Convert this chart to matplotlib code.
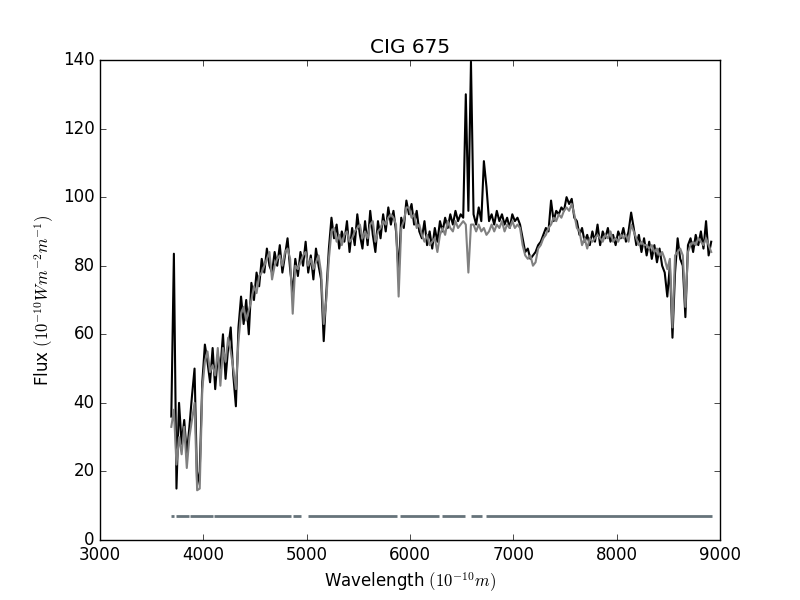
import numpy as np
import matplotlib
matplotlib.use("Agg")
import matplotlib.pyplot as plt

plt.style.use("classic")

# wavelength grid (Angstrom) of the sampled spectrum
wave = np.arange(3690, 8916, 25)

# observed flux (black)
flux_obs = [
    36, 83.5, 15, 40, 28, 35, 25, 33, 42, 50,
    16, 20, 46, 57, 52, 46, 56, 44, 54, 50,
    60, 47, 56, 62, 48, 39, 62, 71, 63, 70,
    60, 75, 70, 78, 74, 82, 78, 85, 80, 78,
    84, 80, 86, 78, 83, 88, 79, 72, 82, 77,
    84, 80, 87, 78, 83, 76, 85, 80, 76, 58,
    72, 85, 94, 88, 92, 85, 90, 87, 93, 84,
    91, 86, 95, 89, 85, 93, 86, 96, 89, 84,
    93, 88, 95, 90, 97, 92, 96, 90, 78, 94,
    91, 99, 95, 98, 92, 96, 90, 88, 93, 86,
    90, 85, 91, 87, 93, 90, 94, 91, 95, 92,
    96, 93, 95, 94, 130, 96, 139.5, 95, 92, 97,
    93, 110.5, 103, 93, 95, 92, 96, 93, 95, 92,
    94, 91, 95, 93, 94, 92, 88, 84, 85, 82,
    83, 84, 86, 87, 89, 91, 90, 99, 93, 96,
    95, 97, 96, 100, 98, 99.5, 94, 93, 89, 91,
    87, 89, 86, 90, 87, 92, 86, 90, 88, 91,
    87, 89, 86, 90, 88, 91, 87, 90, 95.5, 91,
    86, 89, 84, 88, 83, 87, 82, 86, 81, 85,
    80, 78, 71, 80, 59, 78, 88, 82, 80, 65,
    86, 88, 84, 89, 86, 90, 85, 93, 83, 87,
]

# model flux (grey)
flux_model = [
    33, 38, 22, 30, 25, 33, 21, 30, 35, 40,
    14.5, 15, 44, 52, 55, 49, 51, 48, 56, 45,
    56, 52, 59, 55, 50, 44, 58, 66, 68, 64,
    67, 70, 74, 72, 77, 78, 80, 82, 84, 76,
    80, 82, 83, 80, 84, 85, 82, 66, 80, 79,
    81, 83, 84, 80, 82, 79, 81, 83, 78, 63,
    70, 82, 90, 91, 87, 89, 86, 89, 90, 87,
    88, 90, 91, 92, 88, 90, 88, 92, 93, 87,
    90, 91, 93, 92, 94, 95, 94, 92, 71, 91,
    93, 97, 97, 94, 95, 91, 92, 89, 87, 89,
    86, 87, 88, 84, 89, 91, 89, 93, 91, 90,
    93, 91, 92, 93, 92, 78, 92, 92, 90, 92,
    90, 91, 89, 90, 92, 90, 92, 91, 93, 90,
    92, 91, 93, 91, 92, 91, 86, 83, 82, 83,
    80, 81, 85, 86, 88, 89, 91, 92, 94, 93,
    95, 94, 96, 97, 96, 98, 95, 91, 90, 86,
    88, 85, 88, 87, 88, 89, 88, 87, 89, 88,
    90, 87, 88, 87, 89, 88, 89, 87, 92, 90,
    88, 86, 87, 86, 86, 85, 86, 84, 85, 83,
    84, 82, 79, 82, 62, 83, 84, 85, 83, 68,
    84, 86, 87, 86, 88, 87, 86, 88, 86, 84,
]

# masked / fitted wavelength windows drawn at the bottom
mask_start = [3691, 3733, 3871, 4099, 4863, 5012, 5903, 6310, 6594, 6739]
mask_end = [3712, 3864, 4093, 4848, 4945, 5872, 6277, 6532, 6695, 8923]
mask_level = 7

fig = plt.figure(figsize=(8, 6), dpi=100)
ax = fig.add_axes([0.125, 0.1, 0.775, 0.8])

ax.plot(wave, flux_obs, color="black", lw=1.5)
ax.plot(wave, flux_model, color="0.5", lw=1.5)
for s, e in zip(mask_start, mask_end):
    ax.plot([s, e], [mask_level, mask_level], color="#66737a", lw=2,
            solid_capstyle="butt")

ax.set_xlim(3000, 9000)
ax.set_ylim(0, 140)
ax.set_xticks(np.arange(3000, 9001, 1000))
ax.set_yticks(np.arange(0, 141, 20))
ax.set_title("CIG 675")
ax.set_xlabel(r"Wavelength $(10^{-10} m)$")
ax.set_ylabel(r"Flux $(10^{-10} W m^{-2} m^{-1})$")

fig.savefig("out.png", dpi=100)
